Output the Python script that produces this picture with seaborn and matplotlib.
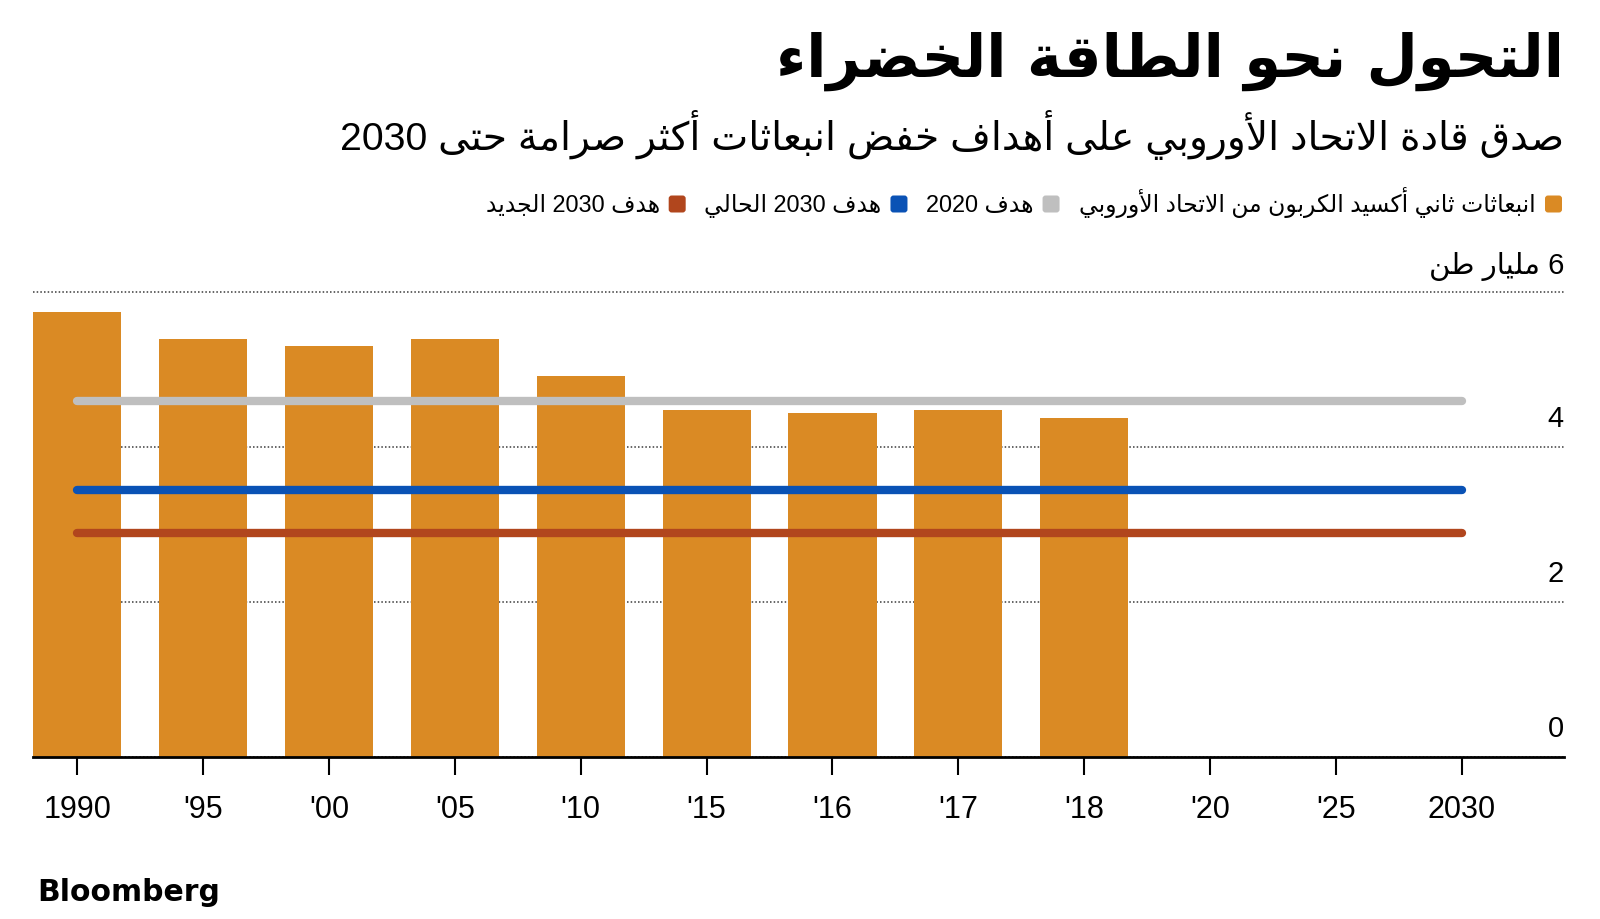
import re
import numpy as np
import pandas as pd
import matplotlib
matplotlib.use("Agg")
import matplotlib.pyplot as plt
import matplotlib.transforms as mtransforms
from matplotlib.patches import FancyBboxPatch
from matplotlib import font_manager
from matplotlib.font_manager import FontProperties
from matplotlib.ft2font import FT2Font
import matplotlib.patheffects as pe
import seaborn as sns

# ---------------- data ----------------
categories = ["1990", "'95", "'00", "'05", "'10", "'15", "'16", "'17", "'18", "'20", "'25", "2030"]
bar_categories = ["1990", "'95", "'00", "'05", "'10", "'15", "'16", "'17", "'18"]
emissions = [5.74, 5.40, 5.30, 5.40, 4.92, 4.48, 4.44, 4.48, 4.38]
target_names = ["هدف 2020", "هدف 2030 الحالي", "هدف 2030 الجديد"]
target_values = [4.59, 3.45, 2.89]
emissions_name = "انبعاثات ثاني أكسيد الكربون من الاتحاد الأوروبي"
y_ticks = [0, 2, 4, 6]
y_top_label = "6 مليار طن"
title = "التحول نحو الطاقة الخضراء"
subtitle = "صدق قادة الاتحاد الأوروبي على أهداف خفض انبعاثات أكثر صرامة حتى 2030"
source = "Bloomberg"

ORANGE = "#DA8A24"
GRAY = "#BFBFBF"
BLUE = "#0A52B5"
RED = "#B1461D"
target_colors = [GRAY, BLUE, RED]

# ---------------- Arabic shaping (presentation forms + visual order) ----------------
FORMS = {}
_dual = [(0x0626, 0xFE89), (0x0628, 0xFE8F), (0x062A, 0xFE95), (0x062B, 0xFE99), (0x062C, 0xFE9D),
         (0x062D, 0xFEA1), (0x062E, 0xFEA5), (0x0633, 0xFEB1), (0x0634, 0xFEB5), (0x0635, 0xFEB9),
         (0x0636, 0xFEBD), (0x0637, 0xFEC1), (0x0638, 0xFEC5), (0x0639, 0xFEC9), (0x063A, 0xFECD),
         (0x0641, 0xFED1), (0x0642, 0xFED5), (0x0643, 0xFED9), (0x0644, 0xFEDD), (0x0645, 0xFEE1),
         (0x0646, 0xFEE5), (0x0647, 0xFEE9), (0x064A, 0xFEF1)]
_right = [(0x0622, 0xFE81), (0x0623, 0xFE83), (0x0624, 0xFE85), (0x0625, 0xFE87), (0x0627, 0xFE8D),
          (0x0629, 0xFE93), (0x062F, 0xFEA9), (0x0630, 0xFEAB), (0x0631, 0xFEAD), (0x0632, 0xFEAF),
          (0x0648, 0xFEED), (0x0649, 0xFEEF)]
DUAL = set()
for c, b in _dual:
    FORMS[chr(c)] = (chr(b), chr(b + 1), chr(b + 2), chr(b + 3))
    DUAL.add(chr(c))
for c, b in _right:
    FORMS[chr(c)] = (chr(b), chr(b + 1), None, None)
FORMS["\u0621"] = ("\uFE80", None, None, None)
LAM_ALEF = {"\u0622": ("\uFEF5", "\uFEF6"), "\u0623": ("\uFEF7", "\uFEF8"),
            "\u0625": ("\uFEF9", "\uFEFA"), "\u0627": ("\uFEFB", "\uFEFC")}


def shape(text):
    out = []
    n = len(text)
    i = 0
    while i < n:
        c = text[i]
        if c not in FORMS:
            out.append(c)
            i += 1
            continue
        prev = text[i - 1] if i > 0 else None
        cp = prev is not None and prev in DUAL
        if c == "\u0644" and i + 1 < n and text[i + 1] in LAM_ALEF:
            iso, fin = LAM_ALEF[text[i + 1]]
            out.append(fin if cp else iso)
            i += 2
            continue
        cn = c in DUAL and i + 1 < n and text[i + 1] in FORMS
        iso, fin, ini, med = FORMS[c]
        if cp and cn:
            g = med
        elif cp:
            g = fin or iso
        elif cn:
            g = ini
        else:
            g = iso
        out.append(g)
        i += 1
    return "".join(out)


def ar(text):
    s = shape(text)
    runs = re.findall(r"[0-9]+|[^0-9]+", s)
    runs.reverse()
    return "".join(r if r[0].isdigit() else r[::-1] for r in runs)


def has_arabic(weight):
    try:
        path = font_manager.findfont(FontProperties(family="DejaVu Sans", weight=weight))
        cm = FT2Font(path).get_charmap()
        return 0xFEFB in cm and 0xFE8D in cm and 0xFEF7 in cm
    except Exception:
        return False


BOLD_AR = has_arabic("bold")

# ---------------- figure ----------------
sns.set_theme(style="white")
plt.rcParams["font.family"] = ["Liberation Sans", "DejaVu Sans"]
W, H = 1600, 920
fig = plt.figure(figsize=(16, 9.2), dpi=100)
fig.patch.set_facecolor("white")


def fx(x):
    return x / W


def fy(y):
    return 1 - y / H


ax_l, ax_r, ax_t, ax_b = 33, 1564, 293, 758
ax = fig.add_axes([fx(ax_l), fy(ax_b), (ax_r - ax_l) / W, (ax_b - ax_t) / H])
ax.set_facecolor("white")

df = pd.DataFrame({"year": bar_categories, "co2": emissions})
sns.barplot(data=df, x="year", y="co2", order=categories, color=ORANGE, saturation=1,
            width=0.70, ax=ax, zorder=2, edgecolor="none", linewidth=0)

for v, col in zip(target_values, target_colors):
    ax.plot([0, len(categories) - 1], [v, v], color=col, linewidth=6.0,
            solid_capstyle="round", zorder=3)

ax.set_xlim(-0.35, 11.81)
ax.set_ylim(0, 6)
ax.set_xlabel("")
ax.set_ylabel("")
ax.set_yticks(y_ticks)
ax.yaxis.grid(True, linestyle=(0, (1, 1.4)), linewidth=1.1, color="#3a3a3a", zorder=0)
ax.xaxis.grid(False)
ax.set_axisbelow(True)
for g in ax.get_ygridlines():
    g.set_clip_on(False)
ax.tick_params(axis="y", length=0, labelleft=False, labelright=False)
ax.tick_params(axis="x", length=13, width=1.5, color="black", direction="out",
               pad=14, labelsize=22, labelcolor="black", bottom=True)
ax.set_xticks(range(len(categories)))
ax.set_xticklabels(categories, fontfamily="Liberation Sans")
for s in ["top", "left", "right"]:
    ax.spines[s].set_visible(False)
ax.spines["bottom"].set_color("black")
ax.spines["bottom"].set_linewidth(2.0)
ax.spines["bottom"].set_zorder(4)

# y labels above the gridlines, right aligned
for t in y_ticks:
    lab = ar(y_top_label) if t == y_ticks[-1] else str(t)
    off = mtransforms.offset_copy(ax.get_yaxis_transform(), fig=fig, x=0, y=15 if t != 6 else 14,
                                  units="points")
    ax.text(1.0, t, lab, transform=off, ha="right", va="baseline", fontsize=21,
            family=["Liberation Sans", "DejaVu Sans"], color="black", clip_on=False)

renderer = fig.canvas.get_renderer()


def fit_text(x, y, s, target_w, size0, **kw):
    t = fig.text(x, y, s, fontsize=size0, **kw)
    w = t.get_window_extent(renderer).width
    t.set_fontsize(size0 * target_w / w)
    return t


# title
if BOLD_AR:
    fit_text(fx(1564), fy(77), ar(title), 787, 40, ha="right", va="baseline",
             family=["DejaVu Sans"], fontweight="bold", color="black")
else:
    fit_text(fx(1564), fy(77), ar(title), 787, 40, ha="right", va="baseline",
             family=["DejaVu Sans"], color="black",
             path_effects=[pe.withStroke(linewidth=2.5, foreground="black")])

# subtitle
fit_text(fx(1564), fy(150), ar(subtitle), 1224, 26, ha="right", va="baseline",
         family=["Liberation Sans", "DejaVu Sans"], color="black")

# legend (RTL: marker at right of the text)
leg_items = [(emissions_name, ORANGE)] + list(zip(target_names, target_colors))
leg_size = 15
msz = 17
ybase = 212
ycen = 205
gap_in, gap_out = 9, 18
widths = []
for name, col in leg_items:
    t = fig.text(0, 0, ar(name), fontsize=leg_size, family=["Liberation Sans", "DejaVu Sans"])
    widths.append(t.get_window_extent(renderer).width)
    t.remove()
fixed = len(leg_items) * (msz + gap_in) + (len(leg_items) - 1) * gap_out
target_total = 1562 - 485
scale = (target_total - fixed) / sum(widths)
scale = max(0.85, min(1.2, scale))
leg_size *= scale
xr = 1562
for (name, col), w in zip(leg_items, widths):
    w *= scale
    patch = FancyBboxPatch((xr - msz, H - ycen - msz / 2), msz, msz,
                           boxstyle="round,pad=0,rounding_size=3",
                           transform=mtransforms.IdentityTransform(),
                           facecolor=col, edgecolor="none")
    fig.add_artist(patch)
    tr = xr - msz - gap_in
    fig.text(fx(tr), fy(ybase), ar(name), fontsize=leg_size, ha="right", va="baseline",
             family=["Liberation Sans", "DejaVu Sans"], color="black")
    xr = tr - w - gap_out

# source
fit_text(fx(37), fy(901), source, 183, 21, ha="left", va="baseline",
         family=["DejaVu Sans"], fontweight="bold", color="black")

fig.savefig("out.png", dpi=100, facecolor="white")
